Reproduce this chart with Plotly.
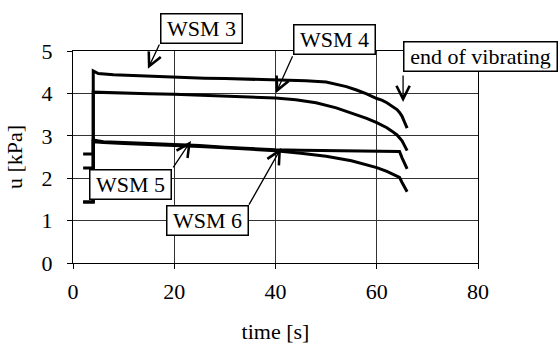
import plotly.graph_objects as go

# ---- data ----
t_wsm3 = [2, 4, 4, 5, 8, 10, 14, 18, 22, 26, 30, 34, 38, 42, 46, 50, 52, 54, 56, 58, 60, 61, 62, 63, 64, 64.5, 65, 65.5, 66]
u_wsm3 = [2.24, 2.24, 4.53, 4.47, 4.44, 4.43, 4.41, 4.39, 4.37, 4.36, 4.35, 4.34, 4.33, 4.32, 4.30, 4.27, 4.22, 4.16, 4.08, 3.99, 3.88, 3.84, 3.78, 3.71, 3.62, 3.55, 3.46, 3.32, 3.18]

t_wsm4 = [2, 4, 4, 6, 10, 15, 20, 25, 30, 35, 40, 44, 48, 52, 55, 58, 60, 62, 63, 64, 65, 65.5, 66]
u_wsm4 = [2.57, 2.57, 4.03, 4.02, 4.00, 3.99, 3.98, 3.96, 3.94, 3.92, 3.89, 3.85, 3.78, 3.66, 3.54, 3.41, 3.31, 3.19, 3.11, 3.02, 2.88, 2.78, 2.65]

t_wsm5 = [2, 4, 4, 6, 10, 15, 20, 25, 30, 35, 40, 45, 50, 55, 60, 64.5, 65, 65.5, 66]
u_wsm5 = [1.44, 1.44, 2.90, 2.86, 2.84, 2.82, 2.80, 2.77, 2.73, 2.70, 2.67, 2.66, 2.65, 2.65, 2.64, 2.63, 2.48, 2.36, 2.22]

t_wsm6 = [2, 4, 4, 6, 10, 15, 20, 25, 30, 35, 40, 45, 50, 55, 58, 60, 62, 63, 64.5, 65, 65.5, 66]
u_wsm6 = [1.44, 1.44, 2.86, 2.84, 2.82, 2.80, 2.78, 2.75, 2.72, 2.69, 2.65, 2.59, 2.52, 2.41, 2.32, 2.25, 2.16, 2.11, 2.02, 1.90, 1.78, 1.68]

series = [("WSM3", t_wsm3, u_wsm3), ("WSM4", t_wsm4, u_wsm4),
          ("WSM5", t_wsm5, u_wsm5), ("WSM6", t_wsm6, u_wsm6)]

x_ticks = [0, 20, 40, 60, 80]
y_ticks = [0, 1, 2, 3, 4, 5]
X_MAX, Y_MAX = 80, 5

# label boxes: text, box centre (t,u), arrow tail (t,u), arrow tip (t,u), box width
labels = [
    ("WSM 3", (25.3, 5.54), (17.2, 5.19), (14.8, 4.58), 76),
    ("WSM 4", (51.75, 5.26), (43.5, 4.91), (40.1, 4.01), 76),
    ("end of vibrating", (80.5, 4.88), (65.2, 4.46), (65.2, 3.80), 148),
    ("WSM 5", (11.3, 1.84), (19.6, 2.22), (23.3, 2.88), 76),
    ("WSM 6", (26.5, 1.01), (34.6, 1.34), (41.1, 2.71), 76),
]

FONT = "Liberation Serif, serif"
tfont = dict(family=FONT, size=22, color="black")

fig = go.Figure()
for name, t, u in series:
    fig.add_trace(go.Scatter(x=t, y=u, mode="lines", name=name,
                             line=dict(color="black", width=3)))

for text, (bx, by), (tx, ty), (hx, hy), w in labels:
    fig.add_annotation(x=hx, y=hy, ax=tx, ay=ty, xref="x", yref="y",
                       axref="x", ayref="y", text="", showarrow=True,
                       arrowhead=5, arrowsize=2, arrowwidth=1.3,
                       arrowcolor="black", standoff=0, startstandoff=0)
    fig.add_annotation(x=bx / X_MAX, y=by / Y_MAX, xref="paper", yref="paper",
                       xanchor="center", yanchor="middle",
                       text=text, showarrow=False, bgcolor="white",
                       bordercolor="black", borderwidth=1.5, borderpad=2,
                       width=w, height=24, font=tfont)

fig.update_layout(
    width=559, height=347,
    margin=dict(l=73, r=81, t=51, b=84),
    paper_bgcolor="white", plot_bgcolor="white",
    showlegend=False,
    font=tfont,
)
fig.update_xaxes(range=[0, X_MAX], tickvals=x_ticks, showgrid=True,
                 gridcolor="#333", gridwidth=1, showline=True, linecolor="black",
                 linewidth=1, mirror=True, ticks="outside", ticklen=5,
                 tickcolor="black", zeroline=False, tickfont=tfont,
                 ticklabelstandoff=4, automargin=False,
                 title=dict(text="time [s]", standoff=20, font=tfont))
fig.update_yaxes(range=[0, Y_MAX], tickvals=y_ticks, showgrid=True,
                 gridcolor="#333", gridwidth=1, showline=True, linecolor="black",
                 linewidth=1, mirror=True, ticks="outside", ticklen=5,
                 tickcolor="black", zeroline=False, ticklabelstandoff=10,
                 tickfont=tfont, automargin=False,
                 title=dict(text="u [kPa]", standoff=12, font=tfont))

fig.write_html("out.html")
